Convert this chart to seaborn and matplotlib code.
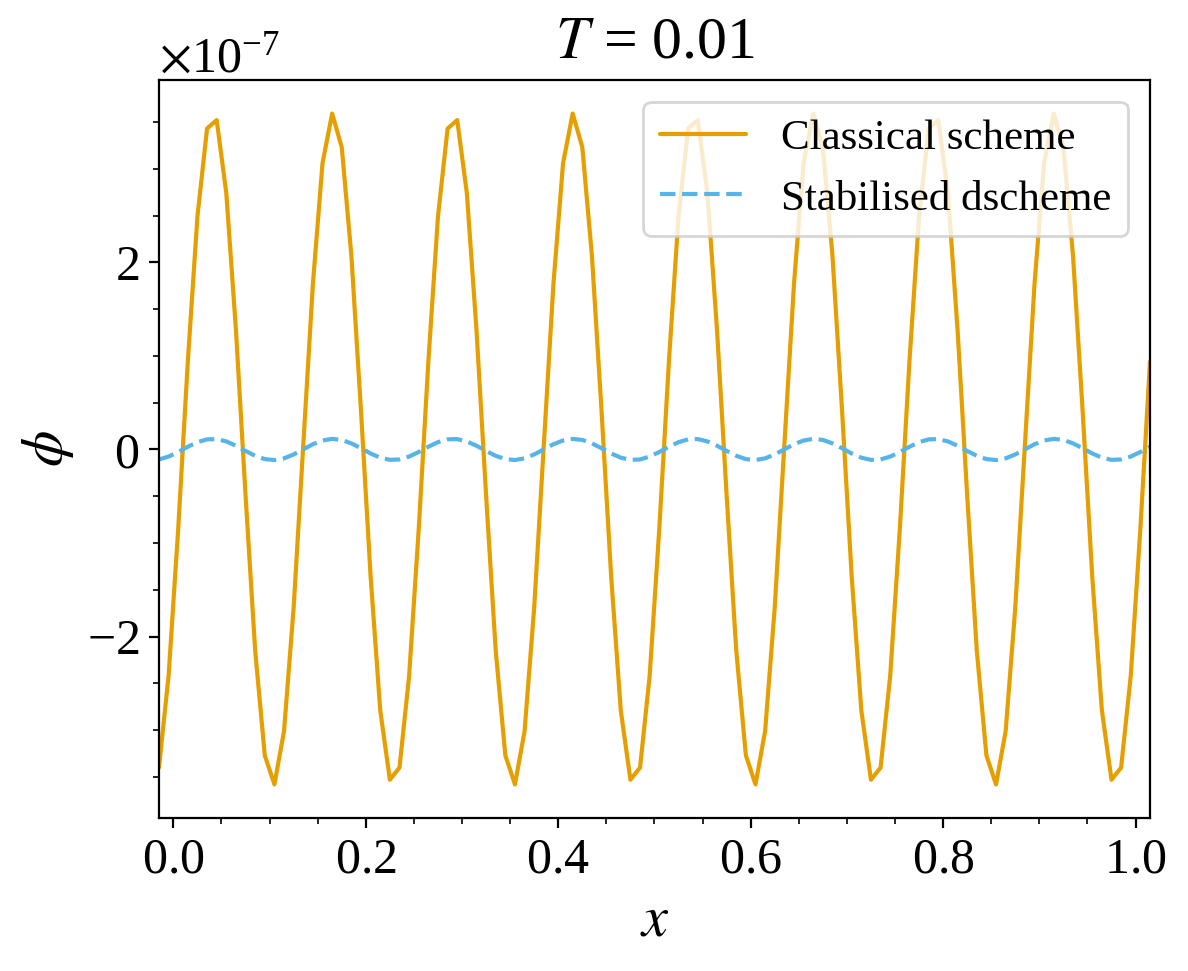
import numpy as np
import pandas as pd
import matplotlib
matplotlib.use("Agg")
import matplotlib.pyplot as plt
import seaborn as sns

# ── Data (phi in units of 1e-7) ────────────────────────────────────────────────
x_cells = [
    -0.015, -0.005, 0.005, 0.015, 0.025, 0.035, 0.045, 0.055, 0.065, 0.075,
    0.085, 0.095, 0.105, 0.115, 0.125, 0.135, 0.145, 0.155, 0.165, 0.175,
    0.185, 0.195, 0.205, 0.215, 0.225, 0.235, 0.245, 0.255, 0.265, 0.275,
    0.285, 0.295, 0.305, 0.315, 0.325, 0.335, 0.345, 0.355, 0.365, 0.375,
    0.385, 0.395, 0.405, 0.415, 0.425, 0.435, 0.445, 0.455, 0.465, 0.475,
    0.485, 0.495, 0.505, 0.515, 0.525, 0.535, 0.545, 0.555, 0.565, 0.575,
    0.585, 0.595, 0.605, 0.615, 0.625, 0.635, 0.645, 0.655, 0.665, 0.675,
    0.685, 0.695, 0.705, 0.715, 0.725, 0.735, 0.745, 0.755, 0.765, 0.775,
    0.785, 0.795, 0.805, 0.815, 0.825, 0.835, 0.845, 0.855, 0.865, 0.875,
    0.885, 0.895, 0.905, 0.915, 0.925, 0.935, 0.945, 0.955, 0.965, 0.975,
    0.985, 0.995, 1.005, 1.015,
]

phi_classical = [
    -3.40, -2.42, -0.85, 0.94, 2.49, 3.43, 3.52, 2.74, 1.28, -0.49,
    -2.15, -3.27, -3.58, -3.01, -1.69, 0.05, 1.77, 3.06, 3.59, 3.23,
    2.07, 0.41, -1.36, -2.79, -3.53,
    -3.40, -2.42, -0.85, 0.94, 2.49, 3.43, 3.52, 2.74, 1.28, -0.49,
    -2.15, -3.27, -3.58, -3.01, -1.69, 0.05, 1.77, 3.06, 3.59, 3.23,
    2.07, 0.41, -1.36, -2.79, -3.53,
    -3.40, -2.42, -0.85, 0.94, 2.49, 3.43, 3.52, 2.74, 1.28, -0.49,
    -2.15, -3.27, -3.58, -3.01, -1.69, 0.05, 1.77, 3.06, 3.59, 3.23,
    2.07, 0.41, -1.36, -2.79, -3.53,
    -3.40, -2.42, -0.85, 0.94, 2.49, 3.43, 3.52, 2.74, 1.28, -0.49,
    -2.15, -3.27, -3.58, -3.01, -1.69, 0.05, 1.77, 3.06, 3.59, 3.23,
    2.07, 0.41, -1.36, -2.79, -3.53,
    -3.40, -2.42, -0.85, 0.94,
]

phi_stabilised = [
    -0.107, -0.076, -0.027, 0.029, 0.078, 0.108, 0.111, 0.086, 0.040, -0.016,
    -0.068, -0.103, -0.113, -0.095, -0.053, 0.001, 0.056, 0.096, 0.113, 0.102,
    0.065, 0.013, -0.043, -0.088, -0.111,
    -0.107, -0.076, -0.027, 0.029, 0.078, 0.108, 0.111, 0.086, 0.040, -0.016,
    -0.068, -0.103, -0.113, -0.095, -0.053, 0.001, 0.056, 0.096, 0.113, 0.102,
    0.065, 0.013, -0.043, -0.088, -0.111,
    -0.107, -0.076, -0.027, 0.029, 0.078, 0.108, 0.111, 0.086, 0.040, -0.016,
    -0.068, -0.103, -0.113, -0.095, -0.053, 0.001, 0.056, 0.096, 0.113, 0.102,
    0.065, 0.013, -0.043, -0.088, -0.111,
    -0.107, -0.076, -0.027, 0.029, 0.078, 0.108, 0.111, 0.086, 0.040, -0.016,
    -0.068, -0.103, -0.113, -0.095, -0.053, 0.001, 0.056, 0.096, 0.113, 0.102,
    0.065, 0.013, -0.043, -0.088, -0.111,
    -0.107, -0.076, -0.027, 0.029,
]

series_labels = ["Classical scheme", "Stabilised dscheme"]
title_text = "$T$ = 0.01"

# ── Style ──────────────────────────────────────────────────────────────────────
sns.set_style("ticks")
plt.rcParams.update({
    "font.family": ["Liberation Serif", "DejaVu Serif"],
    "mathtext.fontset": "stix",
    "axes.formatter.use_mathtext": True,
    "axes.edgecolor": "black",
    "axes.linewidth": 0.8,
    "xtick.color": "black",
    "ytick.color": "black",
    "text.color": "black",
    "axes.labelcolor": "black",
    "xtick.major.size": 3.5,
    "ytick.major.size": 3.5,
    "xtick.minor.size": 2,
    "ytick.minor.size": 2,
    "xtick.major.width": 0.8,
    "ytick.major.width": 0.8,
    "xtick.minor.width": 0.6,
    "ytick.minor.width": 0.6,
})

df = pd.DataFrame({
    "x": x_cells,
    "classical": np.array(phi_classical) * 1e-7,
    "stabilised": np.array(phi_stabilised) * 1e-7,
})

fig = plt.figure(figsize=(5.94, 4.855), dpi=200)
ax = fig.add_axes([0.1338, 0.1576, 0.8342, 0.760])

sns.lineplot(data=df, x="x", y="classical", ax=ax, color="#E69F00",
             linewidth=1.5, label=series_labels[0], sort=False)
sns.lineplot(data=df, x="x", y="stabilised", ax=ax, color="#56B4E9",
             linewidth=1.5, linestyle="--", label=series_labels[1], sort=False)

ax.set_xlim(x_cells[0], x_cells[-1])
ax.minorticks_on()
ax.tick_params(axis="both", which="major", labelsize=18)
ax.yaxis.get_offset_text().set_fontsize(18)

ax.set_title(title_text, fontsize=21.5, pad=8)
ax.set_xlabel("$x$", fontsize=21)
ax.set_ylabel(r"$\phi$", fontsize=21)

ax.legend(loc="upper right", fontsize=15.5, framealpha=0.8, fancybox=True)

fig.savefig("out.png", dpi=200)
plt.close(fig)
